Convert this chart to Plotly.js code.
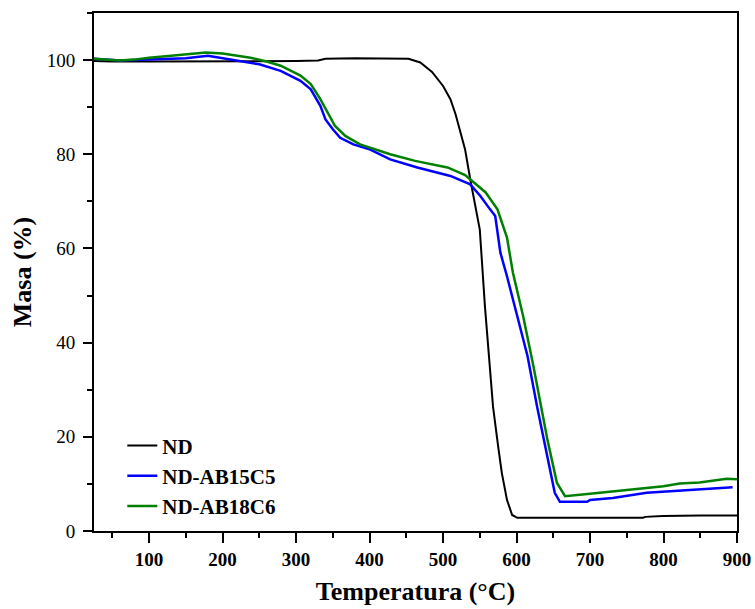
<!DOCTYPE html>
<html>
<head>
<meta charset="utf-8">
<script src="https://cdn.plot.ly/plotly-3.0.1.min.js"></script>
</head>
<body style="margin:0">
<div id="chart" style="width:755px;height:609px"></div>
<script>
const ndX = [25,50,100,150,200,250,300,330,340,380,420,453,469,485,500,510,517,524,530,537,546,550,557,563,568,575,580,587,594,601,650,700,772,775,799,850,900];
const ndY = [99.8,99.7,99.7,99.7,99.7,99.7,99.8,99.9,100.3,100.4,100.4,100.3,99.5,97.5,94.5,91.7,88.5,84.7,81,74.7,67.7,64,47.7,36,26.4,17.9,12.3,6.6,3.4,2.8,2.8,2.8,2.8,3.0,3.2,3.3,3.3];

const ab15X = [25,40,60,100,150,180,200,230,250,279,306,320,333,340,350,360,378,401,428,465,510,537,551,564,571,578,587,601,615,628,642,652,659,696,700,731,777,822,860,894];
const ab15Y = [100.3,100.1,99.9,100.1,100.4,100.9,100.4,99.6,99.1,97.7,95.6,93.8,90.3,87.4,85.3,83.5,82.1,81,78.9,77.2,75.4,73.6,71.1,68.3,66.9,59.1,54.1,45.6,37.1,26.4,15.8,8.1,6.2,6.2,6.6,7.0,8.1,8.5,8.9,9.3];

const ab18X = [25,40,60,80,100,130,150,177,200,220,238,260,279,306,320,333,343,353,367,387,428,462,506,530,542,558,574,587,595,609,623,642,655,666,700,754,800,822,849,886,900];
const ab18Y = [100.3,100.1,99.9,100.1,100.5,100.9,101.2,101.6,101.4,100.9,100.5,99.7,98.8,96.7,94.9,91.7,88.9,86,83.9,82.1,80,78.6,77.2,75.6,74,71.9,68.3,62.3,54.9,45.6,35,19.4,10.2,7.4,7.9,8.7,9.5,10.1,10.3,11.1,11.0];

const seriesNames = ["ND", "ND-AB15C5", "ND-AB18C6"];
const xTicks = [100,200,300,400,500,600,700,800,900];
const yTicks = [0,20,40,60,80,100];

const FAM = "Liberation Serif";
const traces = [
  {x: ndX, y: ndY, name: seriesNames[0], mode: "lines", line: {color: "#000000", width: 2}},
  {x: ab15X, y: ab15Y, name: seriesNames[1], mode: "lines", line: {color: "#0000ff", width: 2.5}},
  {x: ab18X, y: ab18Y, name: seriesNames[2], mode: "lines", line: {color: "#008000", width: 2.5}}
];

const layout = {
  width: 755, height: 609,
  font: {family: FAM, color: "#000", size: 19},
  margin: {l: 94, r: 18, t: 13, b: 78},
  paper_bgcolor: "#fff", plot_bgcolor: "#fff",
  showlegend: true,
  legend: {x: 0.044, y: 0.204, xanchor: "left", yanchor: "top", bgcolor: "rgba(0,0,0,0)",
           font: {family: FAM, size: 21, color: "#000", weight: "bold"}, tracegroupgap: 0},
  xaxis: {
    range: [25, 900], tickvals: xTicks, ticktext: xTicks.map(String),
    ticks: "outside", ticklen: 10, tickwidth: 2, tickcolor: "#000",
    minor: {dtick: 50, tick0: 0, ticks: "outside", ticklen: 5, tickwidth: 2, tickcolor: "#000"},
    showline: true, linewidth: 2, linecolor: "#000", mirror: true,
    showgrid: false, zeroline: false,
    tickfont: {family: FAM, size: 19, color: "#000", weight: "bold"},
    title: {text: "Temperatura (°C)", font: {family: FAM, size: 26, color: "#000", weight: "bold"}, standoff: 13}
  },
  yaxis: {
    range: [0, 110], tickvals: yTicks, ticktext: yTicks.map(String),
    ticks: "outside", ticklen: 9, tickwidth: 2, tickcolor: "#000",
    ticklabelstandoff: 4,
    minor: {dtick: 10, tick0: 0, ticks: "outside", ticklen: 5, tickwidth: 2, tickcolor: "#000"},
    showline: true, linewidth: 2, linecolor: "#000", mirror: true,
    showgrid: false, zeroline: false,
    tickfont: {family: FAM, size: 19, color: "#000"},
    title: {text: "Masa (%)", font: {family: FAM, size: 26, color: "#000", weight: "bold"}, standoff: 8}
  }
};

Plotly.newPlot("chart", traces, layout, {displayModeBar: false});
</script>
</body>
</html>
